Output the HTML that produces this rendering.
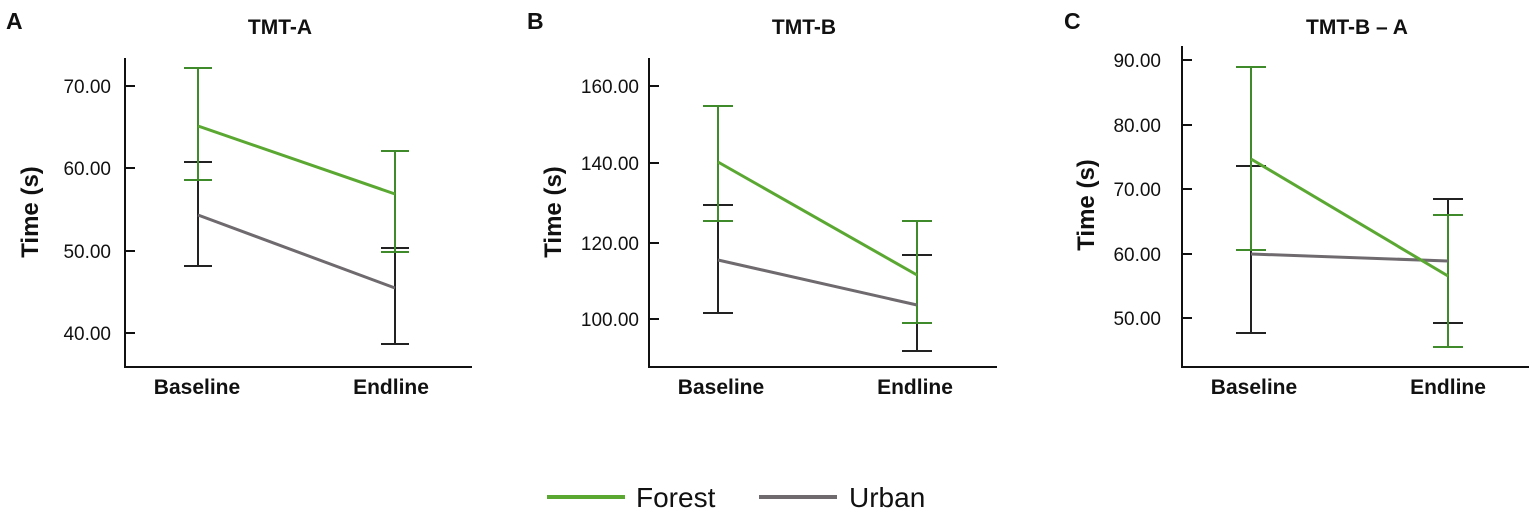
<!DOCTYPE html>
<html><head><meta charset="utf-8"><style>
html,body{margin:0;padding:0;background:#fff;}
svg text{font-family:"Liberation Sans",Arial,sans-serif;}
</style></head><body>
<svg width="1535" height="512" viewBox="0 0 1535 512" xmlns="http://www.w3.org/2000/svg">
<g font-weight="bold" fill="#111">
<text x="6" y="29" font-size="23">A</text>
<text x="527" y="29" font-size="23">B</text>
<text x="1064" y="29" font-size="23">C</text>
<text x="280" y="34" font-size="21" text-anchor="middle">TMT-A</text>
<text x="804" y="34" font-size="21" text-anchor="middle">TMT-B</text>
<text x="1357" y="34" font-size="21" text-anchor="middle">TMT-B – A</text>
<text x="197" y="394" font-size="21" text-anchor="middle">Baseline</text>
<text x="391" y="394" font-size="21" text-anchor="middle">Endline</text>
<text x="721" y="394" font-size="21" text-anchor="middle">Baseline</text>
<text x="915" y="394" font-size="21" text-anchor="middle">Endline</text>
<text x="1254" y="394" font-size="21" text-anchor="middle">Baseline</text>
<text x="1448" y="394" font-size="21" text-anchor="middle">Endline</text>
<text transform="translate(38,212) rotate(-90)" font-size="24" text-anchor="middle">Time (s)</text>
<text transform="translate(561,212) rotate(-90)" font-size="24" text-anchor="middle">Time (s)</text>
<text transform="translate(1094,205) rotate(-90)" font-size="24" text-anchor="middle">Time (s)</text>
</g>
<g font-size="19" fill="#111" text-anchor="end">
<text x="111" y="93">70.00</text><text x="111" y="175">60.00</text><text x="111" y="258">50.00</text><text x="111" y="340">40.00</text>
<text x="639" y="93">160.00</text><text x="639" y="170">140.00</text><text x="639" y="250">120.00</text><text x="639" y="326">100.00</text>
<text x="1161" y="67">90.00</text><text x="1161" y="132">80.00</text><text x="1161" y="196">70.00</text><text x="1161" y="261">60.00</text><text x="1161" y="325">50.00</text>
</g>
<g stroke="#111" stroke-width="2" fill="none">
<path d="M125 58V367H472"/><path d="M125 86h10M125 168h10M125 251h10M125 333h10"/>
<path d="M649 58V367H997"/><path d="M649 86h10M649 163h10M649 243h10M649 319h10"/>
<path d="M1182 46V367H1529"/><path d="M1182 60h10M1182 125h10M1182 189h10M1182 254h10M1182 318h10"/>
</g>
<g stroke="#222" stroke-width="2" fill="none">
<path d="M198 162V266M184 162h28M184 266h28M395 248V344M381 248h28M381 344h28"/>
<path d="M718 205V313M703 205h30M703 313h30M917 255V351M902 255h30M902 351h30"/>
<path d="M1251 166V333M1236 166h30M1236 333h30M1448 199V323M1433 199h30M1433 323h30"/>
</g>
<g stroke="#3f8a2a" stroke-width="2" fill="none">
<path d="M198 68V180M184 68h28M184 180h28M395 151V252M381 151h28M381 252h28"/>
<path d="M718 106V221M703 106h30M703 221h30M917 221V323M902 221h30M902 323h30"/>
<path d="M1251 67V250M1236 67h30M1236 250h30M1448 215V347M1433 215h30M1433 347h30"/>
</g>
<g stroke="#6e6a6e" stroke-width="3" fill="none">
<path d="M198 215L395 288"/><path d="M718 260L917 305"/><path d="M1251 254L1448 261"/>
</g>
<g stroke="#5aa832" stroke-width="3" fill="none">
<path d="M198 126L395 194"/><path d="M718 162L917 275"/><path d="M1251 159L1448 276"/>
</g>
<line x1="547" y1="497" x2="625" y2="497" stroke="#5aa832" stroke-width="4"/>
<line x1="759" y1="497" x2="837" y2="497" stroke="#6e6a6e" stroke-width="4"/>
<text x="636" y="507" font-size="28" fill="#111">Forest</text>
<text x="849" y="507" font-size="28" fill="#111">Urban</text>
</svg>
</body></html>
